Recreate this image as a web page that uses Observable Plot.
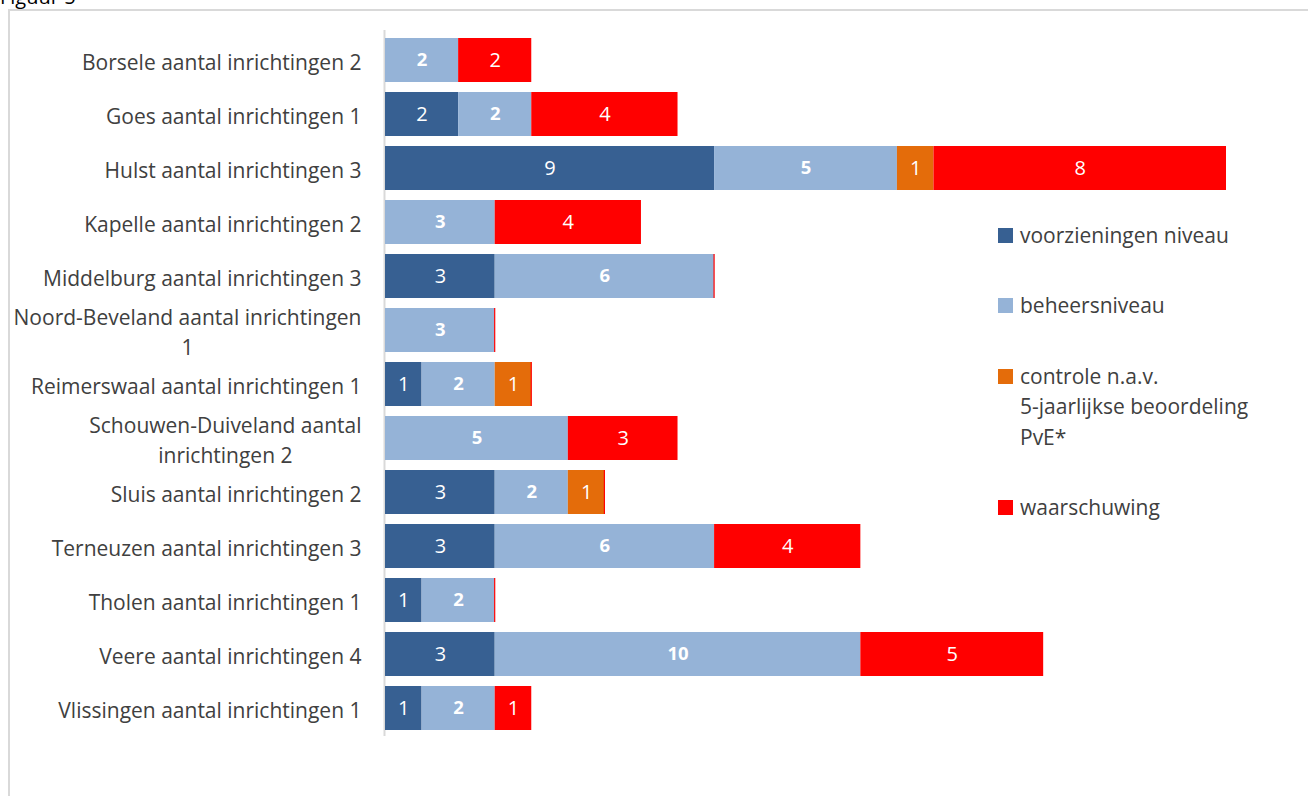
<!DOCTYPE html>
<html><head><meta charset="utf-8">
<script src="https://cdn.jsdelivr.net/npm/d3@7"></script>
<script src="https://cdn.jsdelivr.net/npm/@observablehq/plot@0.6"></script>
<style>
body{margin:0;background:#fff;overflow:hidden;width:1308px;height:796px;position:relative;font-family:"Open Sans", sans-serif;}
#title{position:absolute;left:0;top:-13px;font-size:20px;line-height:20px;color:#000;}
#frame{position:absolute;left:8px;top:9px;width:1400px;height:900px;border:2px solid #d9d9d9;box-sizing:border-box;}
#chart{position:absolute;left:0;top:0;}
#legend{position:absolute;left:998px;top:219.75px;font-size:21px;color:#404040;line-height:30.5px;display:flex;flex-direction:column;gap:40px}
.item{position:relative;padding-left:22px;white-space:nowrap}
.sw{position:absolute;left:0;top:8px;width:15px;height:15px}
</style>
</head><body>
<div id="title">Figuur 5</div>
<div id="frame"></div>
<div id="chart"></div>
<div id="legend"></div>
<script>
const regions = ["Borsele","Goes","Hulst","Kapelle","Middelburg","Noord-Beveland","Reimerswaal","Schouwen-Duiveland","Sluis","Terneuzen","Tholen","Veere","Vlissingen"];
const regionLabels = ["Borsele aantal inrichtingen 2","Goes aantal inrichtingen 1","Hulst aantal inrichtingen 3","Kapelle aantal inrichtingen 2","Middelburg aantal inrichtingen 3","Noord-Beveland aantal inrichtingen\n1","Reimerswaal aantal inrichtingen 1","Schouwen-Duiveland aantal\ninrichtingen 2","Sluis aantal inrichtingen 2","Terneuzen aantal inrichtingen 3","Tholen aantal inrichtingen 1","Veere aantal inrichtingen 4","Vlissingen aantal inrichtingen 1"];
const series = ["voorzieningen niveau","beheersniveau","controle n.a.v. 5-jaarlijkse beoordeling PvE*","waarschuwing"];
const legendLabels = ["voorzieningen niveau","beheersniveau","controle n.a.v.<br>5-jaarlijkse beoordeling<br>PvE*","waarschuwing"];
const colors = ["#376092","#95b3d7","#e46c0a","#ff0000"];
const voorzieningen = [0,2,9,0,3,0,1,0,3,3,1,3,1];
const beheersniveau = [2,2,5,3,6,3,2,5,2,6,2,10,2];
const controle = [0,0,1,0,0,0,1,0,1,0,0,0,0];
const waarschuwing = [2,4,8,4,0,0,0,3,0,4,0,5,1];
const xMax = 23;

const values = [voorzieningen, beheersniveau, controle, waarschuwing];
const data = [];
regions.forEach((r, i) => series.forEach((s, j) => data.push({region: r, series: s, value: values[j][i]})));
const zeroRows = regions.map((r, i) => ({region: r, total: values.reduce((a, v) => a + v[i], 0), w: waarschuwing[i]})).filter(d => d.w === 0);

const plot = Plot.plot({
  width: 1308, height: 796,
  marginLeft: 385, marginRight: 82, marginTop: 30, marginBottom: 60,
  x: {domain: [0, xMax], axis: null},
  y: {domain: regions, range: [30, 737], paddingInner: 0.19, paddingOuter: 0.1, label: null},
  color: {domain: series, range: colors},
  style: {fontFamily: "'Open Sans', sans-serif", fontSize: "21px", color: "#404040", background: "transparent", overflow: "visible"},
  marks: [
    Plot.ruleX([0], {stroke: "#d9d9d9", strokeWidth: 2, dx: -1}),
    Plot.barX(data, Plot.stackX({x: "value", y: "region", fill: "series", z: "series"})),
    Plot.tickX(zeroRows, {x: "total", y: "region", stroke: "#ff0000", strokeWidth: 1.2, dx: -0.5}),
    Plot.text(data, Plot.stackX({x: "value", y: "region", z: "series", text: d => (d.series !== series[1] && d.value) ? String(d.value) : "", fill: "white", fontSize: 20})),
    Plot.text(data, Plot.stackX({x: "value", y: "region", z: "series", text: d => (d.series === series[1] && d.value) ? String(d.value) : "", fill: "white", fontSize: 18.5, fontWeight: "bold"})),
    Plot.axisY({tickSize: 0, tickPadding: 24, label: null, tickFormat: r => regionLabels[regions.indexOf(r)], fontSize: 21, lineHeight: 1.45})
  ]
});
document.getElementById("chart").appendChild(plot);

d3.select(plot).selectAll('g[aria-label="y-axis tick label"] text').each(function() {
  const tspans = Array.from(this.querySelectorAll("tspan"));
  if (tspans.length > 1) {
    const w = Math.max(...tspans.map(t => t.getComputedTextLength()));
    tspans.forEach(t => { t.setAttribute("x", -w / 2); t.setAttribute("text-anchor", "middle"); });
    this.setAttribute("text-anchor", "middle");
  }
});

const legend = d3.select("#legend");
series.forEach((s, j) => {
  const item = legend.append("div").attr("class", "item");
  item.append("div").attr("class", "sw").style("background", colors[j]);
  item.append("span").html(legendLabels[j]);
});
</script>
</body></html>
